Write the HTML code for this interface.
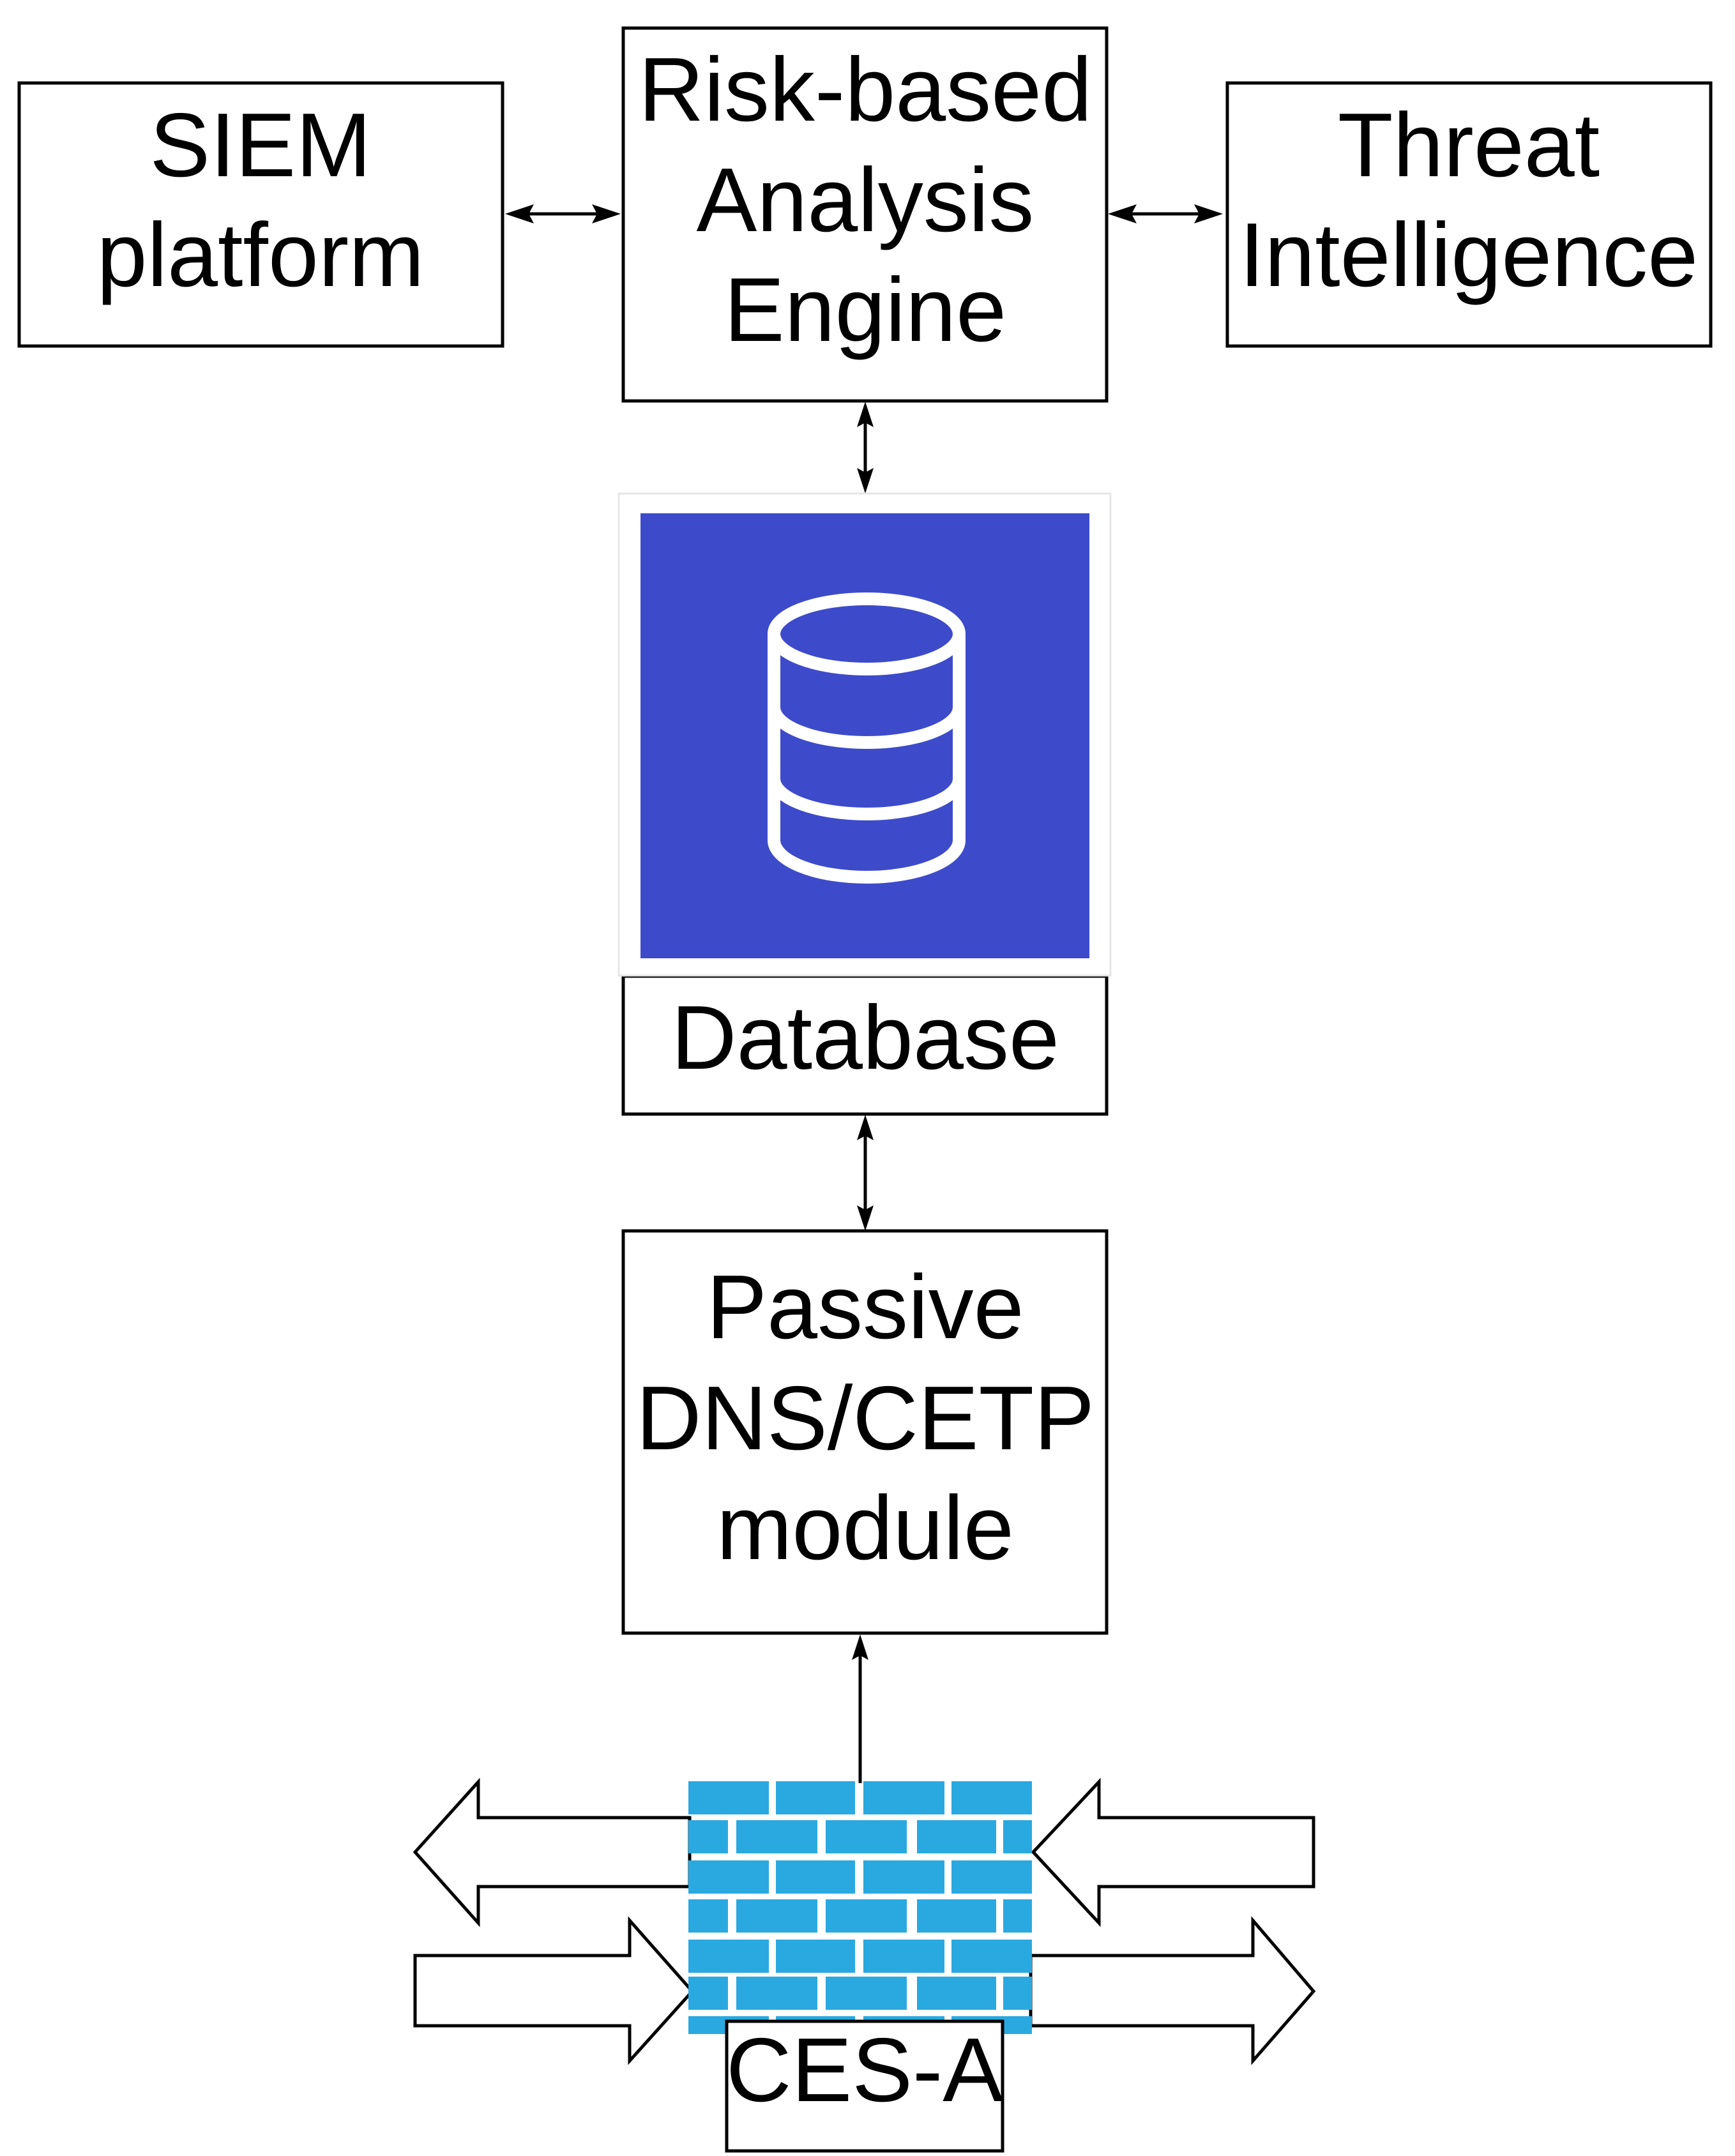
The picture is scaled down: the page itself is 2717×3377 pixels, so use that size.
<!DOCTYPE html>
<html><head><meta charset="utf-8"><style>
html,body{margin:0;padding:0;background:#fff;}
svg{display:block;}
text{font-family:"Liberation Sans",sans-serif;font-size:142px;fill:#000;text-anchor:middle;}
</style></head><body>
<svg width="2717" height="3377" viewBox="0 0 2717 3377" xmlns="http://www.w3.org/2000/svg">
<g fill="none" stroke="#000" stroke-width="5">
<rect x="30" y="130" width="757" height="412"/>
<rect x="976" y="44" width="757" height="584"/>
<rect x="1922" y="130" width="757" height="412"/>
<rect x="976" y="1529" width="757" height="216"/>
<rect x="976" y="1928" width="757" height="630"/>
</g>
<g stroke="#000" stroke-width="5">
<line x1="810" y1="335" x2="950" y2="335"/>
<line x1="1755" y1="335" x2="1895" y2="335"/>
<line x1="1355" y1="650" x2="1355" y2="752"/>
<line x1="1355" y1="1765" x2="1355" y2="1910"/>
<line x1="1347" y1="2580" x2="1347" y2="2793"/>
</g>
<g fill="#000">
<polygon points="791,335 836,320 828,335 836,350"/>
<polygon points="972,335 927,320 935,335 927,350"/>
<polygon points="1735,335 1780,320 1772,335 1780,350"/>
<polygon points="1915,335 1870,320 1878,335 1870,350"/>
<polygon points="1355,629 1342,669 1355,662 1368,669"/>
<polygon points="1355,773 1342,733 1355,740 1368,733"/>
<polygon points="1355,1746 1342,1786 1355,1779 1368,1786"/>
<polygon points="1355,1928 1342,1888 1355,1895 1368,1888"/>
<polygon points="1347,2560 1334,2600 1347,2593 1360,2600"/>
</g>
<rect x="969" y="773" width="770" height="755" fill="#fff" stroke="#e6e6e6" stroke-width="3"/>
<rect x="1003" y="804" width="703" height="697" fill="#3d4bcb"/>
<g fill="none" stroke="#fff" stroke-width="20">
<ellipse cx="1357" cy="993" rx="145" ry="55"/>
<path d="M1212,993 V1316 A145,58 0 0 0 1502,1316 V993"/>
<path d="M1212,1108 A145,55 0 0 0 1502,1108"/>
<path d="M1212,1220 A145,55 0 0 0 1502,1220"/>
</g>
<text x="408" y="276">SIEM</text>
<text x="408" y="448">platform</text>
<text x="1355" y="189">Risk-based</text>
<text x="1355" y="362">Analysis</text>
<text x="1355" y="534">Engine</text>
<text x="2300" y="276">Threat</text>
<text x="2300" y="448">Intelligence</text>
<text x="1355" y="1674">Database</text>
<text x="1355" y="2096">Passive</text>
<text x="1355" y="2270">DNS/CETP</text>
<text x="1355" y="2442">module</text>
<g fill="#fff" stroke="#000" stroke-width="5" stroke-linejoin="miter">
<polygon points="650,2901 749,2791 749,2847 1080,2847 1080,2955 749,2955 749,3012"/>
<polygon points="1618,2901 1721,2791 1721,2847 2057,2847 2057,2955 1721,2955 1721,3012"/>
<polygon points="650,3063 986,3063 986,3008 1084,3119 986,3228 986,3173 650,3173"/>
<polygon points="1614,3063 1962,3063 1962,3008 2057,3119 1962,3228 1962,3173 1614,3173"/>
</g>
<g fill="#2aa9e0">
<g id="full">
<rect x="1078" y="2790" width="126" height="52"/>
<rect x="1215" y="2790" width="124" height="52"/>
<rect x="1352" y="2790" width="127" height="52"/>
<rect x="1490" y="2790" width="126" height="52"/>
</g>
<g id="half">
<rect x="1078" y="2851" width="62" height="52"/>
<rect x="1153" y="2851" width="127" height="52"/>
<rect x="1293" y="2851" width="127" height="52"/>
<rect x="1436" y="2851" width="124" height="52"/>
<rect x="1571" y="2851" width="45" height="52"/>
</g>
<use href="#full" y="124"/>
<use href="#half" y="124"/>
<use href="#full" y="248"/>
<use href="#half" y="245"/>
<g transform="translate(0,368)">
<rect x="1078" y="2790" width="126" height="28"/>
<rect x="1215" y="2790" width="124" height="28"/>
<rect x="1352" y="2790" width="127" height="28"/>
<rect x="1490" y="2790" width="126" height="28"/>
</g>
</g>
<rect x="1138" y="3166" width="432" height="203" fill="#fff" stroke="#000" stroke-width="5"/>
<text x="1354" y="3291">CES-A</text>
</svg>
</body></html>
